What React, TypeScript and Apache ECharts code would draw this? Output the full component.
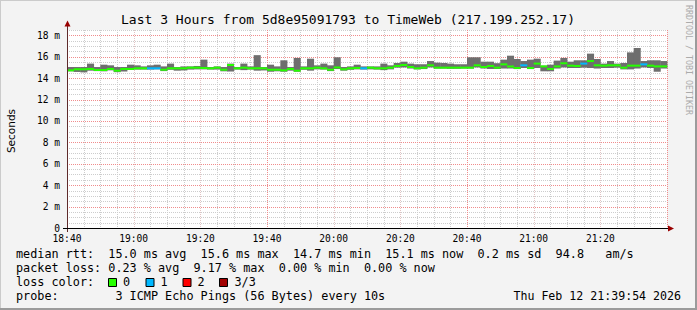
import React, { useEffect, useRef } from 'react';
import * as echarts from 'echarts';

// ---------- data ----------
const STEP_MIN = 2; // each bin is 2 minutes, x measured in minutes from 18:40
const xTickLabels = ['18:40', '19:00', '19:20', '19:40', '20:00', '20:20', '20:40', '21:00', '21:20'];
const yTickLabels = ['0', '2 m', '4 m', '6 m', '8 m', '10 m', '12 m', '14 m', '16 m', '18 m'];

const median = [
  14.73, 14.83, 14.83, 14.86, 14.76, 14.76, 14.86, 14.70, 14.86, 14.86,
  14.92, 14.92, 14.92, 14.92, 14.79, 14.92, 14.92, 14.92, 14.98, 14.98,
  14.95, 14.92, 14.98, 14.79, 15.23, 14.92, 14.98, 14.92, 14.92, 14.92,
  14.79, 14.79, 14.73, 14.86, 14.70, 14.92, 14.92, 14.98, 14.92, 14.79,
  15.00, 14.83, 14.92, 14.95, 14.92, 14.98, 14.92, 14.92, 14.98, 15.14,
  15.23, 15.04, 14.92, 14.98, 15.20, 14.98, 14.98, 14.98, 14.98, 14.98,
  14.98, 15.20, 15.04, 15.14, 14.98, 15.29, 15.10, 14.95, 15.20, 14.95,
  15.36, 15.10, 14.86, 15.10, 15.39, 15.17, 15.14, 15.36, 15.60, 15.20,
  15.17, 15.20, 15.20, 14.98, 15.17, 15.17, 15.29, 15.17, 15.10, 15.10,
];
const smokeHigh = [
  15.04, 15.04, 15.04, 15.36, 15.04, 15.26, 15.20, 15.04, 15.04, 15.26,
  15.20, 15.10, 15.20, 15.26, 15.10, 15.36, 15.04, 15.10, 15.10, 15.14,
  15.73, 15.04, 15.10, 15.04, 15.36, 15.04, 15.36, 15.10, 16.15, 15.04,
  15.26, 15.10, 15.67, 15.04, 15.89, 15.10, 15.82, 15.20, 15.36, 15.20,
  15.95, 15.04, 15.10, 15.26, 15.10, 15.10, 15.10, 15.36, 15.20, 15.42,
  15.54, 15.36, 15.30, 15.30, 15.60, 15.45, 15.42, 15.36, 15.30, 15.30,
  15.95, 15.95, 15.54, 15.54, 15.40, 15.73, 16.10, 15.79, 15.60, 15.73,
  15.82, 15.17, 15.26, 15.64, 15.89, 15.54, 15.67, 15.67, 16.29, 15.79,
  15.36, 15.60, 15.36, 15.42, 16.41, 16.82, 15.60, 15.67, 15.67, 15.60,
];
const smokeLow = [
  14.64, 14.58, 14.54, 14.70, 14.66, 14.64, 14.73, 14.56, 14.62, 14.76,
  14.80, 14.80, 14.80, 14.82, 14.66, 14.78, 14.70, 14.72, 14.80, 14.82,
  14.82, 14.80, 14.80, 14.64, 14.62, 14.80, 14.75, 14.80, 14.70, 14.72,
  14.60, 14.64, 14.60, 14.70, 14.60, 14.78, 14.70, 14.82, 14.80, 14.66,
  14.85, 14.70, 14.78, 14.82, 14.80, 14.82, 14.80, 14.75, 14.82, 14.98,
  15.00, 14.90, 14.82, 14.85, 15.00, 14.90, 14.90, 14.88, 14.88, 14.90,
  14.90, 15.00, 14.90, 14.86, 14.86, 14.90, 14.90, 14.85, 14.95, 14.85,
  14.95, 14.64, 14.64, 14.90, 15.00, 14.95, 14.95, 14.98, 14.95, 14.90,
  14.95, 14.95, 14.98, 14.82, 14.82, 14.90, 15.00, 14.95, 14.60, 14.90,
];
const lossCount = [
  0, 0, 0, 0, 0, 0, 0, 0, 0, 0,
  0, 0, 1, 1, 0, 0, 0, 0, 0, 0,
  0, 0, 0, 0, 0, 0, 0, 0, 0, 0,
  0, 0, 0, 0, 0, 0, 0, 0, 0, 0,
  0, 0, 0, 0, 1, 0, 0, 0, 0, 0,
  0, 0, 0, 0, 0, 0, 0, 0, 0, 0,
  0, 0, 0, 0, 0, 0, 0, 0, 1, 0,
  0, 0, 0, 0, 0, 0, 0, 1, 0, 0,
  0, 0, 0, 0, 0, 0, 1, 0, 0, 0,
];
const lossColors = ['#26ff00', '#00b8ff', '#ff0000', '#a10000'];
const lossLabels = ['0', '1', '2', '3/3'];

const titleText = 'Last 3 Hours from 5d8e95091793 to TimeWeb (217.199.252.17)';
const legendLines = [
  'median rtt:  15.0 ms avg  15.6 ms max  14.7 ms min  15.1 ms now  0.2 ms sd  94.8   am/s',
  'packet loss: 0.23 % avg  9.17 % max  0.00 % min  0.00 % now',
  'loss color:',
  'probe:        3 ICMP Echo Pings (56 Bytes) every 10s',
];
const dateText = 'Thu Feb 12 21:39:54 2026';

// grid lines (axis units)
const yMinor = [] as number[];
for (let v = 0.5; v <= 18.5; v += 0.5) if (v % 2 !== 0) yMinor.push(v);
const yMajor = [2, 4, 6, 8, 10, 12, 14, 16, 18];
const xMinor = [] as number[];
for (let m = 5; m <= 180; m += 5) if (m % 20 !== 0) xMinor.push(m);
const xMajor = [20, 40, 60, 80, 100, 120, 140, 160, 180];

const MONO = '"DejaVu Sans Mono", monospace';

export default function App() {
  const ref = useRef<HTMLDivElement>(null);
  useEffect(() => {
    if (!ref.current) return;
    const chart = echarts.init(ref.current, undefined, { renderer: 'svg' });

    // [orientation 0=h 1=v, value, style 0 minor 1 pink 2 red]
    const gridData: number[][] = [];
    yMinor.forEach((v) => gridData.push([0, v, 0]));
    xMinor.forEach((v) => gridData.push([1, v, 0]));
    yMajor.forEach((v) => gridData.push([0, v, 2]));
    xMajor.forEach((v) => gridData.push([1, v, v % 60 === 0 ? 2 : 1]));

    const gridColors = ['#cdcdcd', '#e2c4c4', '#f08c8c'];

    const gridRender = (params: any, api: any) => {
      const cs = params.coordSys;
      const o = api.value(0), v = api.value(1), s = api.value(2);
      if (o === 0) {
        const y = Math.round(api.coord([0, v])[1]) + 0.5;
        return { type: 'line', shape: { x1: cs.x, y1: y, x2: cs.x + cs.width, y2: y }, style: { stroke: gridColors[s], lineWidth: 1, lineDash: [1, 1] } };
      }
      const x = Math.round(api.coord([v, 0])[0]) + 0.5;
      return { type: 'line', shape: { x1: x, y1: cs.y, x2: x, y2: cs.y + cs.height }, style: { stroke: gridColors[s], lineWidth: 1, lineDash: [1, 1] } };
    };

    const smokeRender = (params: any, api: any) => {
      const x = api.value(0), lo = api.value(1), hi = api.value(2);
      const a = api.coord([x, hi]);
      const b = api.coord([x + STEP_MIN, lo]);
      return { type: 'rect', shape: { x: a[0], y: a[1], width: b[0] - a[0] + 0.4, height: b[1] - a[1] }, style: { fill: '#6e6e6e' } };
    };

    const medianRender = (params: any, api: any) => {
      const x = api.value(0), v = api.value(1), l = api.value(2);
      const a = api.coord([x, v]);
      const b = api.coord([x + STEP_MIN, v]);
      return { type: 'rect', shape: { x: a[0], y: a[1] - 1, width: b[0] - a[0] + 0.3, height: 2 }, style: { fill: lossColors[l] } };
    };

    const smokeData = median.map((_, i) => [i * STEP_MIN, smokeLow[i], smokeHigh[i]]);
    const medianData = median.map((m, i) => [i * STEP_MIN, m, lossCount[i]]);

    const graphic: any[] = [];
    // frame
    graphic.push({ type: 'rect', shape: { x: 0, y: 0, width: 697, height: 1 }, style: { fill: '#cbcbcb' }, silent: true });
    graphic.push({ type: 'rect', shape: { x: 0, y: 0, width: 1, height: 310 }, style: { fill: '#cbcbcb' }, silent: true });
    graphic.push({ type: 'rect', shape: { x: 0, y: 308, width: 697, height: 2 }, style: { fill: '#9b9b9b' }, silent: true });
    graphic.push({ type: 'rect', shape: { x: 695, y: 0, width: 2, height: 310 }, style: { fill: '#9b9b9b' }, silent: true });
    // axes
    graphic.push({ type: 'line', shape: { x1: 67.5, y1: 232, x2: 67.5, y2: 25 }, style: { stroke: '#5e2a2a', lineWidth: 1 }, z: 10, silent: true });
    graphic.push({ type: 'line', shape: { x1: 63, y1: 228.5, x2: 669, y2: 228.5 }, style: { stroke: '#000', lineWidth: 1 }, z: 10, silent: true });
    graphic.push({ type: 'polygon', shape: { points: [[64.5, 26.5], [70.5, 26.5], [67.5, 20.5]] }, style: { fill: '#990000' }, z: 10, silent: true });
    graphic.push({ type: 'polygon', shape: { points: [[668, 225.5], [668, 231.5], [674, 228.5]] }, style: { fill: '#990000' }, z: 10, silent: true });
    // title
    graphic.push({ type: 'text', x: 348, y: 19.5, style: { text: titleText, font: `13px ${MONO}`, fill: '#000', textAlign: 'center', textVerticalAlign: 'middle' }, silent: true });
    // y-axis name
    graphic.push({ type: 'text', x: 11, y: 131, rotation: Math.PI / 2, style: { text: 'Seconds', font: '10.5px "DejaVu Sans", sans-serif', fill: '#000', textAlign: 'center', textVerticalAlign: 'middle' }, silent: true });
    // watermark
    graphic.push({ type: 'text', x: 688.5, y: 60, rotation: -Math.PI / 2, style: { text: 'RRDTOOL / TOBI OETIKER', font: `8.3px ${MONO}`, fill: '#ababab', textAlign: 'center', textVerticalAlign: 'middle' }, silent: true });

    // legend lines, token placed at monospace column
    const CW = 7.1;
    const X0 = 16;
    const rowsY = [254, 268, 282, 296];
    legendLines.forEach((line, r) => {
      const re = /\S+/g;
      let m: RegExpExecArray | null;
      while ((m = re.exec(line)) !== null) {
        graphic.push({ type: 'text', x: X0 + m.index * CW, y: rowsY[r], style: { text: m[0], font: `11.8px ${MONO}`, fill: '#000', textAlign: 'left', textVerticalAlign: 'middle' }, silent: true });
      }
    });
    // loss color swatches
    const swX = [108.5, 146, 183, 219.5];
    const lblX = [123, 160.5, 197.5, 234.5];
    lossColors.forEach((c, i) => {
      graphic.push({ type: 'rect', shape: { x: swX[i], y: 278.5, width: 8, height: 8 }, style: { fill: c, stroke: '#000', lineWidth: 1 }, silent: true });
      graphic.push({ type: 'text', x: lblX[i], y: rowsY[2], style: { text: lossLabels[i], font: `11.8px ${MONO}`, fill: '#000', textAlign: 'left', textVerticalAlign: 'middle' }, silent: true });
    });
    graphic.push({ type: 'text', x: 681, y: rowsY[3], style: { text: dateText, font: `11.6px ${MONO}`, fill: '#000', textAlign: 'right', textVerticalAlign: 'middle' }, silent: true });

    chart.setOption({
      animation: false,
      backgroundColor: '#f3f3f3',
      grid: { left: 67, top: 30, width: 600, height: 198, show: true, backgroundColor: '#ffffff', borderWidth: 0 },
      xAxis: {
        type: 'value', min: 0, max: 180, interval: 20,
        axisLine: { show: false }, axisTick: { show: false }, splitLine: { show: false },
        axisLabel: {
          formatter: (v: number) => xTickLabels[Math.round(v / 20)] ?? '',
          showMaxLabel: false, fontFamily: MONO, fontSize: 9.6, color: '#000', margin: 5,
        },
      },
      yAxis: {
        type: 'value', min: 0, max: 18.5, interval: 2,
        axisLine: { show: false }, axisTick: { show: false }, splitLine: { show: false },
        axisLabel: {
          formatter: (v: number) => (v % 2 === 0 ? yTickLabels[v / 2] ?? '' : ''),
          showMaxLabel: false, fontFamily: MONO, fontSize: 9.6, color: '#000', margin: 7,
        },
      },
      series: [
        { type: 'custom', renderItem: gridRender, data: gridData, z: 1, silent: true, clip: false },
        { type: 'custom', renderItem: smokeRender, data: smokeData, encode: { x: 0, y: [1, 2] }, z: 3, silent: true },
        { type: 'custom', renderItem: medianRender, data: medianData, encode: { x: 0, y: 1 }, z: 4, silent: true },
      ],
      graphic,
    });
    return () => chart.dispose();
  }, []);
  return <div ref={ref} style={{ position: 'fixed', left: 0, top: 0, width: 697, height: 310 }} />;
}
